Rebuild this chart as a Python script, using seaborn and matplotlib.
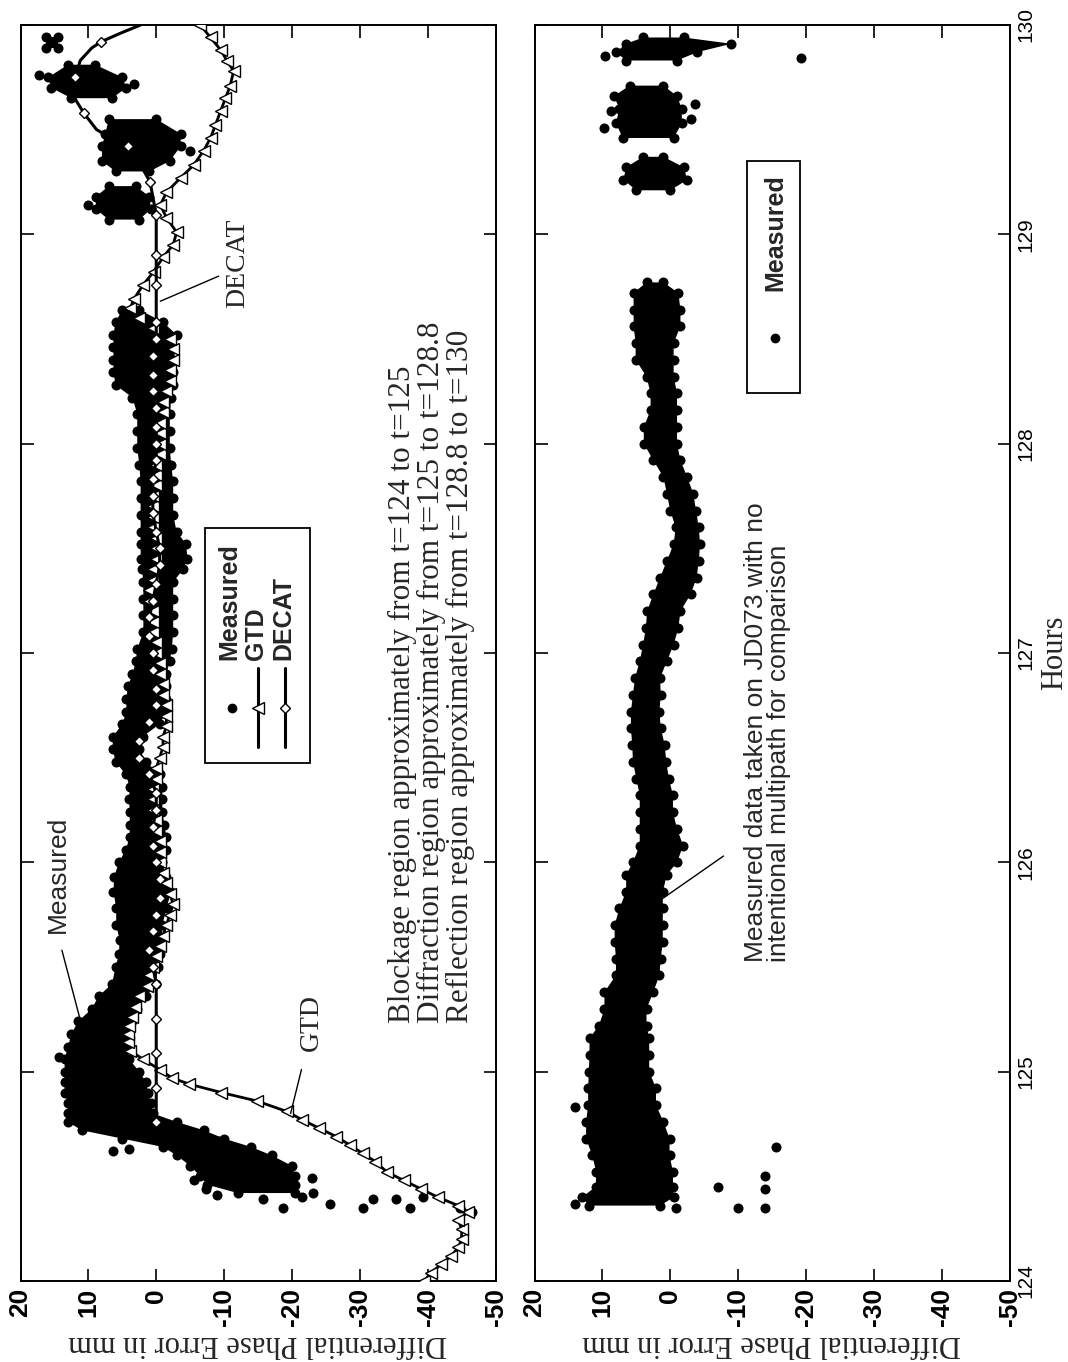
import numpy as np
import matplotlib
matplotlib.use("Agg")
import matplotlib.pyplot as plt
from matplotlib.patches import Rectangle
import seaborn as sns

nan = np.nan

# ---------------- upper panel: GTD and DECAT predictions (hours, mm) ----------------
gtd_hours = [
    124.00, 124.04, 124.08, 124.12, 124.16, 124.20, 124.25, 124.29, 124.33, 124.36,
    124.40, 124.44, 124.48, 124.52, 124.57, 124.61, 124.65, 124.69, 124.73, 124.77,
    124.81, 124.86, 124.90, 124.94, 124.97, 125.01, 125.06, 125.10, 125.14, 125.18,
    125.22, 125.26, 125.31, 125.36, 125.41, 125.46, 125.50, 125.55, 125.60, 125.65,
    125.70, 125.75, 125.80, 125.85, 125.90, 125.95, 126.00, 126.05, 126.10, 126.15,
    126.20, 126.25, 126.30, 126.35, 126.40, 126.45, 126.50, 126.55, 126.60, 126.65,
    126.70, 126.75, 126.80, 126.85, 126.90, 126.95, 127.00, 127.05, 127.10, 127.15,
    127.20, 127.25, 127.30, 127.35, 127.40, 127.45, 127.50, 127.55, 127.60, 127.65,
    127.70, 127.75, 127.80, 127.85, 127.90, 127.95, 128.00, 128.05, 128.10, 128.15,
    128.20, 128.25, 128.30, 128.35, 128.40, 128.45, 128.50, 128.55, 128.60, 128.65,
    128.69, 128.76, 128.82, 128.89, 128.95, 129.01, 129.08, 129.14, 129.20, 129.27,
    129.33, 129.40, 129.46, 129.52, 129.59, 129.65, 129.71, 129.78, 129.83, 129.88,
    129.94, 130.00]
gtd_mm = [
    -39.5, -40.5, -42.0, -43.5, -44.5, -45.0, -45.0, -44.5, -46.0, -44.5,
    -41.5, -39.0, -36.5, -34.0, -32.3, -30.4, -28.5, -26.5, -24.0, -21.5,
    -19.2, -14.8, -9.6, -4.9, -2.3, -0.5, 2.0, 3.8, 4.2, 4.2,
    4.0, 3.6, 3.2, 2.5, 1.4, 1.0, 0.5, 0.0, -0.5, -1.0,
    -1.5, -2.0, -2.5, -2.0, -1.5, -1.0, -0.5, -0.5, -0.5, 0.0,
    0.0, 0.5, 0.5, 0.5, 0.0, 0.0, -0.5, -1.0, -1.0, -1.5,
    -1.5, -1.5, -1.0, -1.0, -0.5, -0.5, 0.0, 0.0, 0.5, 0.5,
    0.5, 1.0, 1.0, 0.5, 0.5, 0.0, 0.0, 0.0, 0.5, 0.5,
    0.5, 0.5, 0.0, 0.0, 0.0, -0.5, -0.5, -0.5, -0.5, -1.0,
    -1.0, -1.5, -2.0, -2.0, -2.5, -2.5, -2.0, 0.5, 2.5, 3.8,
    3.3, 1.9, 0.4, -1.0, -2.5, -3.0, -1.5, -0.6, -1.5, -3.6,
    -5.5, -7.0, -8.0, -8.7, -9.5, -10.2, -10.9, -11.4, -10.4, -9.5,
    -8.0, -6.5]

decat_hours = [
    124.76, 124.92, 125.09, 125.25, 125.42, 125.50, 125.58, 125.67, 125.75, 125.83,
    125.92, 126.00, 126.08, 126.17, 126.25, 126.33, 126.42, 126.50, 126.58, 126.67,
    126.75, 126.83, 126.92, 127.00, 127.08, 127.17, 127.25, 127.33, 127.42, 127.50,
    127.58, 127.67, 127.75, 127.83, 127.92, 128.00, 128.08, 128.17, 128.25, 128.33,
    128.42, 128.50, 128.58, 128.76, 128.90, 129.09, 129.25, 129.33, 129.42, 129.46,
    129.50, 129.58, 129.66, 129.75, 129.83, 129.89, 129.92, 129.96, 130.00]
decat_mm = [
    0.0, 0.0, 0.0, 0.0, 0.0, 0.5, 1.0, 0.5, 0.0, -0.5,
    -0.5, 0.0, 0.5, 0.5, 0.0, 0.0, 1.0, 2.5, 2.5, 1.0,
    0.0, 0.0, 0.5, 0.5, 1.0, 1.0, 0.5, 0.0, -0.5, -0.5,
    0.0, 0.5, 0.5, 0.5, 0.0, 0.0, 0.0, 0.0, 0.5, 0.5,
    0.5, 0.0, 0.0, 0.0, 0.0, 0.0, 0.9, 2.3, 4.1, 6.7,
    8.8, 10.7, 12.2, 11.9, 11.2, 9.5, 8.1, 5.3, 2.3]
# 1 = model sample shown with a diamond symbol
decat_sampled = [
    1, 1, 1, 1, 1, 1, 1, 1, 1, 1,
    1, 1, 1, 1, 1, 1, 1, 1, 1, 1,
    1, 1, 1, 1, 1, 1, 1, 1, 1, 1,
    1, 1, 1, 1, 1, 1, 1, 1, 1, 1,
    1, 1, 1, 1, 1, 1, 1, 0, 1, 0,
    0, 1, 0, 1, 0, 0, 1, 0, 0]

# ---------------- upper panel: measured phase error (spread of samples) ----------------
meas_hours = [
    124.42, 124.46, 124.50, 124.55, 124.60, 124.64, 124.68, 124.72, 124.76, 124.80,
    124.85, 124.90, 124.95, 125.00, 125.06, 125.12, 125.18, 125.24, 125.30, 125.36,
    125.42, 125.50, 125.56, 125.63, 125.70, 125.78, 125.86, 125.93, 126.00, 126.06,
    126.12, 126.18, 126.24, 126.30, 126.36, 126.42, 126.48, 126.54, 126.60, 126.66,
    126.72, 126.78, 126.84, 126.90, 126.96, 127.02, 127.10, 127.18, 127.26, 127.34,
    127.40, 127.45, 127.52, 127.58, 127.66, 127.74, 127.82, 127.90, 127.98, 128.06,
    128.14, 128.22, 128.28, 128.34, 128.40, 128.46, 128.52, 128.58, 128.64, nan,
    129.07, 129.12, 129.18, 129.23, nan,
    129.30, 129.35, 129.42, 129.48, 129.55, nan,
    129.65, 129.70, 129.75, 129.81, nan,
    129.89, 129.94]
meas_low = [
    -20.5, -20.5, -20.5, -20.0, -17.0, -14.0, -10.0, -7.0, -3.0, 0.5,
    0.8, 1.2, 1.5, 2.5, 4.0, 4.2, 4.2, 3.5, 2.8, 1.5,
    0.0, -0.2, -0.5, -0.9, -0.9, -1.5, -2.2, -1.5, -0.9, -1.5,
    -1.5, -1.2, -0.9, -0.9, -0.9, -0.5, 1.5, 2.5, 2.0, -0.5,
    -1.5, -1.5, -1.5, -1.5, -2.0, -2.3, -2.5, -2.5, -2.5, -2.5,
    -4.0, -4.6, -4.4, -3.0, -2.5, -2.5, -2.5, -2.2, -2.0, -2.0,
    -2.0, -2.2, -2.5, -2.5, -2.5, -2.5, -3.0, -1.0, 2.5, nan,
    2.5, 0.8, 1.0, 3.0, nan,
    1.0, -2.0, -3.6, -3.6, 0.0, nan,
    6.5, 4.4, 5.0, 9.0, nan,
    14.5, 14.5]
meas_high = [
    -12.0, -7.5, -6.5, -5.0, -3.0, -1.0, 5.0, 11.0, 13.0, 13.0,
    13.0, 13.5, 13.5, 13.5, 13.5, 13.0, 12.5, 11.5, 9.5, 8.5,
    6.5, 6.0, 5.5, 5.4, 5.9, 5.9, 6.3, 6.2, 5.5, 4.5,
    3.9, 3.9, 3.9, 4.0, 3.9, 4.5, 6.0, 6.4, 6.4, 5.0,
    4.4, 4.4, 4.2, 3.5, 3.0, 2.8, 1.9, 1.9, 1.9, 1.9,
    2.1, 2.3, 2.3, 2.3, 2.3, 2.3, 2.3, 2.5, 2.8, 2.8,
    2.8, 3.5, 6.0, 6.3, 6.3, 6.3, 6.3, 6.0, 5.0, nan,
    7.0, 8.9, 8.9, 7.0, nan,
    6.0, 8.0, 8.0, 7.5, 7.0, nan,
    12.5, 15.5, 15.9, 13.0, nan,
    16.2, 16.2]
meas_out_hours = [124.33, 124.35, 124.40, 124.35, 124.39, 124.39, 124.35, 124.37, 124.42, 124.35,
                  124.39, 124.49, 124.67, 124.62, 124.63, 124.48, 124.44, 125.07, 129.14, 129.40,
                  129.76, 129.72, 124.40, 124.41]
meas_out_mm = [-46.6, -44.7, -39.3, -37.4, -35.4, -31.9, -30.4, -25.6, -23.1, -18.7,
               -15.8, -23.0, -9.3, 6.4, 4.0, -5.6, -7.4, 14.3, 10.0, -5.0,
               17.3, 3.3, -21.5, -9.0]

# ---------------- lower panel: JD073 reference day ----------------
ref_hours = [
    124.36, 124.40, 124.45, 124.52, 124.60, 124.68, 124.76, 124.84, 124.92, 125.00,
    125.08, 125.16, 125.22, 125.30, 125.38, 125.46, 125.54, 125.62, 125.70, 125.78,
    125.86, 125.94, 126.00, 126.08, 126.16, 126.24, 126.32, 126.40, 126.48, 126.56,
    126.64, 126.72, 126.80, 126.88, 126.96, 127.04, 127.12, 127.20, 127.28, 127.36,
    127.44, 127.52, 127.60, 127.68, 127.76, 127.84, 127.92, 128.00, 128.08, 128.16,
    128.24, 128.32, 128.40, 128.48, 128.56, 128.64, 128.72, 128.77, nan,
    129.21, 129.26, 129.32, 129.37, nan,
    129.46, 129.53, 129.60, 129.66, 129.71, nan,
    129.83, 129.87, 129.91, 129.94]
ref_low = [
    1.5, -0.5, -0.4, -0.4, 0.1, 0.1, 1.0, 2.1, 2.1, 3.1,
    3.1, 3.1, 3.5, 3.5, 2.5, 1.6, 1.4, 1.1, 1.1, 1.1,
    1.1, 0.5, -1.0, -1.9, -1.0, -0.4, -0.4, 0.2, 0.6, 0.8,
    1.4, 1.6, 1.4, 1.5, 0.5, -0.5, -1.2, -1.5, -3.0, -3.9,
    -4.2, -4.4, -4.2, -3.8, -3.4, -2.5, -1.5, -1.0, -1.0, -1.0,
    -1.0, -0.5, -0.5, -0.5, -1.5, -1.5, -1.2, 1.0, nan,
    0.0, -2.5, -2.0, 1.0, nan,
    -0.5, -1.7, -1.7, -1.0, 1.0, nan,
    -1.0, -4.0, -9.0, -2.0]
ref_high = [
    12.0, 13.0, 11.0, 10.9, 11.5, 12.4, 12.4, 12.1, 12.1, 12.0,
    11.9, 11.9, 10.5, 9.7, 9.7, 8.0, 8.0, 8.2, 8.2, 7.5,
    6.5, 6.5, 5.5, 4.5, 4.5, 4.5, 4.5, 5.0, 5.5, 5.6,
    5.8, 5.8, 5.5, 5.2, 4.5, 4.0, 3.6, 3.4, 2.5, 1.5,
    0.5, -0.5, -0.8, 0.0, 0.5, 1.0, 2.5, 3.9, 3.9, 2.9,
    2.9, 3.5, 5.1, 5.1, 5.4, 5.4, 5.4, 3.5, nan,
    5.0, 6.9, 6.5, 4.0, nan,
    7.0, 8.0, 7.5, 8.3, 6.0, nan,
    6.5, 8.0, 6.5, 4.0]
ref_out_hours = [124.35, 124.35, 124.44, 124.45, 124.50, 124.64, 124.83, 129.25, 129.51, 129.59,
                 129.62, 129.55, 129.85, 129.84, 124.37, 124.35]
ref_out_mm = [-10.0, -13.9, -13.9, -7.0, -13.9, -15.6, 14.1, 4.9, 9.8, 8.8,
              -3.7, -3.0, 9.6, -19.2, 14.0, -0.8]

# ---------------- axes ticks ----------------
phase_ticks = [20, 10, 0, -10, -20, -30, -40, -50]
phase_labels = ["20", "10", "0", "-10", "-20", "-30", "-40", "-50"]
hour_ticks = [124, 125, 126, 127, 128, 129, 130]
hour_labels = ["124", "125", "126", "127", "128", "129", "130"]

# ---------------- styling ----------------
sns.set_theme(style="ticks")
SANS = ["Liberation Sans", "DejaVu Sans"]
SERIF = ["Liberation Serif", "DejaVu Serif"]
plt.rcParams["font.family"] = SANS
plt.rcParams["axes.linewidth"] = 1.4
plt.rcParams["axes.edgecolor"] = "black"

fig = plt.figure(figsize=(10.68, 13.62), dpi=100)
ax1 = fig.add_axes([0.0192, 0.0595, 0.4448, 0.9222])
ax2 = fig.add_axes([0.5005, 0.0595, 0.4448, 0.9222])

DOT = 52


def draw_measured(ax, hours, low, high, out_h, out_v):
    ax.fill_betweenx(hours, low, high, color="black", lw=0, zorder=2)
    sns.scatterplot(x=low, y=hours, ax=ax, color="black", s=DOT, linewidth=0,
                    zorder=2, legend=False)
    sns.scatterplot(x=high, y=hours, ax=ax, color="black", s=DOT, linewidth=0,
                    zorder=2, legend=False)
    sns.scatterplot(x=out_v, y=out_h, ax=ax, color="black", s=DOT, linewidth=0,
                    zorder=2, legend=False)


draw_measured(ax1, meas_hours, meas_low, meas_high, meas_out_hours, meas_out_mm)
draw_measured(ax2, ref_hours, ref_low, ref_high, ref_out_hours, ref_out_mm)

ax1.plot(gtd_mm, gtd_hours, color="black", lw=2.0, marker="<", ms=8,
         mfc="white", mec="black", mew=1.0, zorder=3)
ax1.plot(decat_mm, decat_hours, color="black", lw=2.2, marker="D", ms=5.5,
         mfc="white", mec="black", mew=1.0, zorder=4,
         markevery=[i for i, f in enumerate(decat_sampled) if f])

for ax in (ax1, ax2):
    ax.set_xlim(20, -50)
    ax.set_ylim(124, 130)
    ax.set_xticks(phase_ticks)
    ax.set_xticklabels(phase_labels, rotation=90, fontsize=19,
                       fontweight="bold", family=SANS)
    ax.set_yticks(hour_ticks)
    ax.tick_params(axis="both", direction="in", length=9, width=1.2,
                   top=True, bottom=True, left=True, right=True, colors="black")
    ax.tick_params(axis="x", pad=5)
    for sp in ax.spines.values():
        sp.set_visible(True)
        sp.set_color("black")
        sp.set_linewidth(1.4)
    ax.set_xlabel("Differential Phase Error in mm", rotation=180, fontsize=22,
                  family=SERIF, labelpad=2)
    ax.set_facecolor("white")

ax1.tick_params(axis="y", labelleft=False, labelright=False)
ax2.tick_params(axis="y", labelleft=False, labelright=True, pad=5)
ax2.set_yticklabels(hour_labels, rotation=90, va="center", fontsize=15, family=SANS)
ax2.yaxis.set_label_position("right")
ax2.set_ylabel("Hours", rotation=90, fontsize=22, family=SERIF, labelpad=3)

# ---------------- upper panel legend ----------------
T1 = ax1.transAxes
ax1.add_patch(Rectangle((0.388, 0.4124), 0.221, 0.1871, transform=T1,
                        fc="white", ec="black", lw=1.3, zorder=6))
ax1.plot([0.445], [0.4562], "o", color="black", ms=6, transform=T1, zorder=7)
ax1.plot([0.5, 0.5, 0.5], [0.4252, 0.4562, 0.4881], color="black", lw=2.2,
         marker="<", ms=8, mfc="white", mec="black", mew=1.0, markevery=[1],
         transform=T1, zorder=7)
ax1.plot([0.557, 0.557, 0.557], [0.4252, 0.4562, 0.4881], color="black", lw=2.2,
         marker="D", ms=5.5, mfc="white", mec="black", mew=1.0, markevery=[1],
         transform=T1, zorder=7)
for xf, lab in [(0.440, "Measured"), (0.4958, "GTD"), (0.5526, "DECAT")]:
    ax1.text(xf, 0.4944, lab, rotation=90, ha="center", va="bottom",
             fontsize=18, fontweight="bold", family=SANS, transform=T1, zorder=7)

# ---------------- lower panel legend ----------------
T2 = ax2.transAxes
ax2.add_patch(Rectangle((0.447, 0.707), 0.112, 0.1847, transform=T2,
                        fc="white", ec="black", lw=1.3, zorder=6))
ax2.plot([0.506], [0.7508], "o", color="black", ms=6, transform=T2, zorder=7)
ax2.text(0.506, 0.7882, "Measured", rotation=90, ha="center", va="bottom",
         fontsize=18, fontweight="bold", family=SANS, transform=T2, zorder=7)

# ---------------- annotations ----------------
ax1.text(14.55, 125.94, "Measured", rotation=90, ha="center", va="center",
         fontsize=19, family=SANS)
ax1.plot([13.9, 11.3], [125.58, 125.26], color="black", lw=1.0, zorder=5)

ax1.text(-22.9, 125.234, "GTD", rotation=90, ha="center", va="center",
         fontsize=20, family=SERIF)
ax1.plot([-21.4, -19.8], [125.01, 124.80], color="black", lw=1.0, zorder=5)

ax1.text(-11.98, 128.861, "DECAT", rotation=90, ha="center", va="center",
         fontsize=20, family=SERIF)
ax1.plot([-9.2, -0.6], [128.80, 128.68], color="black", lw=1.0, zorder=5)

ax1.text(-34.2, 125.234,
         "Blockage region approximately from t=124 to t=125\n"
         "Diffraction region approximately from t=125 to t=128.8\n"
         "Reflection region approximately from t=128.8 to t=130",
         rotation=90, ha="left", va="bottom", multialignment="left",
         fontsize=22.5, family=SERIF, linespacing=1.0)

ax2.text(-10.8, 125.526,
         "Measured data taken on JD073 with no\n"
         "intentional multipath for comparison",
         rotation=90, ha="left", va="bottom", multialignment="left",
         fontsize=19, family=SANS, linespacing=0.95)
ax2.plot([-7.85, 2.76], [126.03, 125.79], color="black", lw=1.0, zorder=5)

fig.savefig("out.png", dpi=100, facecolor="white")
